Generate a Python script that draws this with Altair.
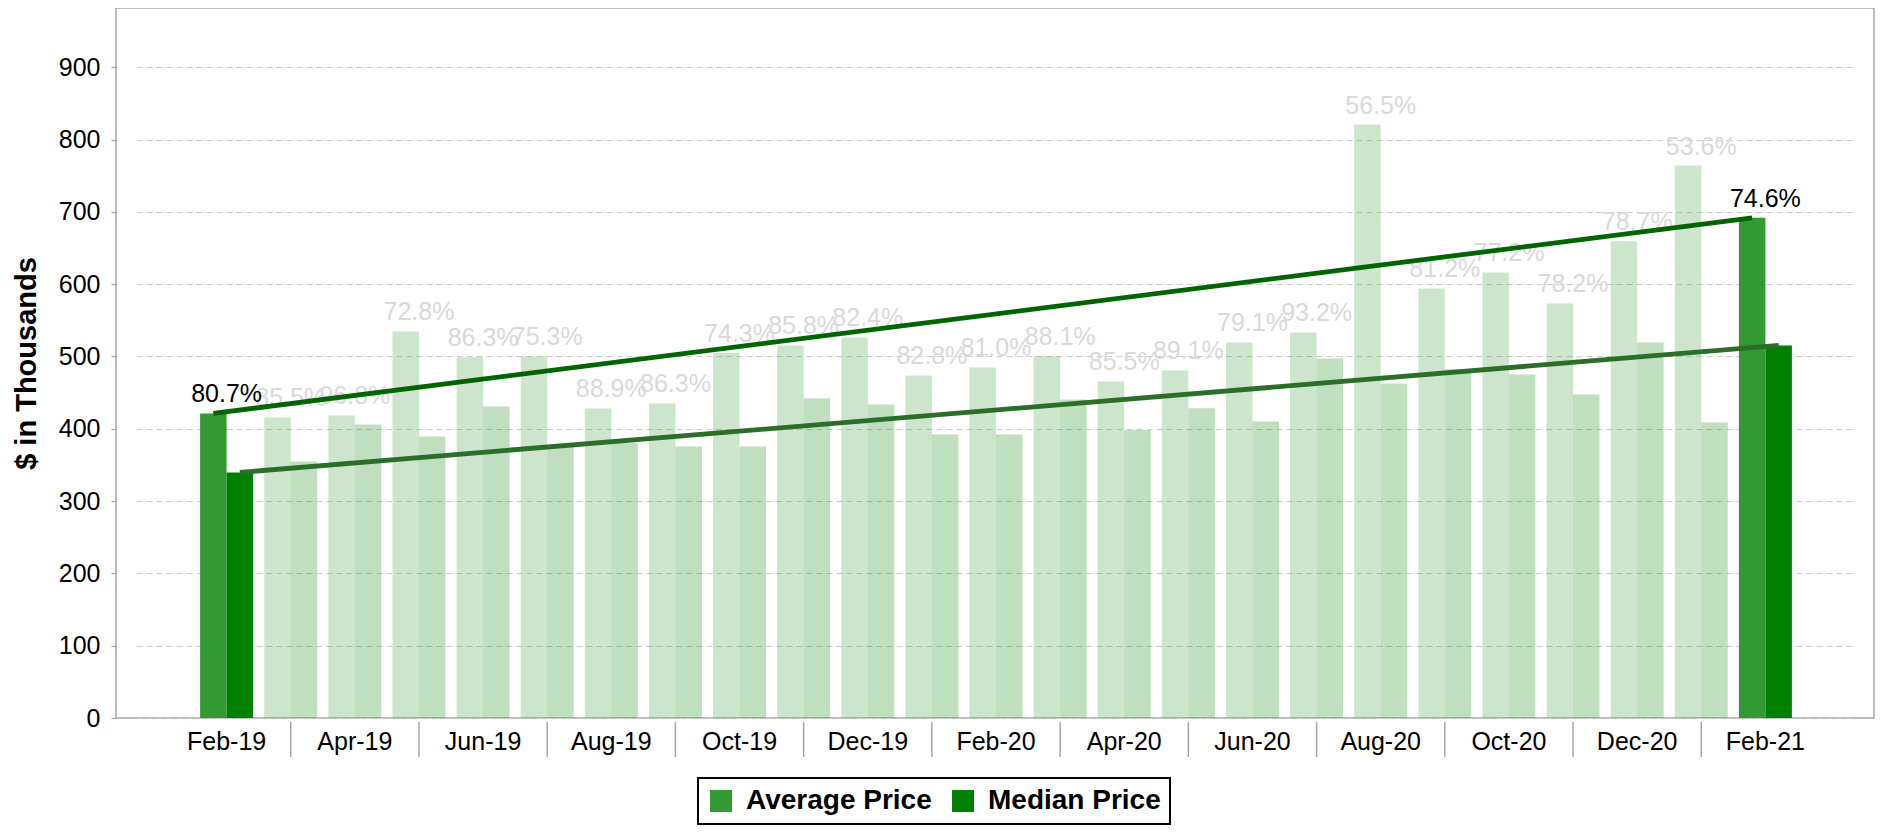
import altair as alt
import pandas as pd

months = ['Feb-19', 'Mar-19', 'Apr-19', 'May-19', 'Jun-19', 'Jul-19', 'Aug-19', 'Sep-19',
          'Oct-19', 'Nov-19', 'Dec-19', 'Jan-20', 'Feb-20', 'Mar-20', 'Apr-20', 'May-20',
          'Jun-20', 'Jul-20', 'Aug-20', 'Sep-20', 'Oct-20', 'Nov-20', 'Dec-20', 'Jan-21', 'Feb-21']
avg_price = [421.3, 415.7, 418.5, 534.6, 499.1, 500.0, 428.2, 435.0, 505.0, 515.3, 526.3, 473.8,
             484.9, 500.5, 465.5, 480.7, 519.4, 533.3, 820.7, 594.1, 616.2, 573.3, 659.4, 764.1, 691.8]
median_price = [339.7, 354.9, 406.0, 389.5, 431.0, 376.5, 380.2, 375.6, 375.6, 442.2, 433.7, 392.2,
                392.2, 440.6, 398.2, 428.3, 410.2, 497.3, 462.7, 482.4, 475.2, 447.5, 519.4, 408.8, 515.3]
ratio_labels = ['80.7%', '85.5%', '96.8%', '72.8%', '86.3%', '75.3%', '88.9%', '86.3%', '74.3%',
                '85.8%', '82.4%', '82.8%', '81.0%', '88.1%', '85.5%', '89.1%', '79.1%', '93.2%',
                '56.5%', '81.2%', '77.2%', '78.2%', '78.7%', '53.6%', '74.6%']
highlighted = ['Feb-19', 'Feb-21']
tick_labels = months[::2]
separators = months[1::2]
series_names = ['Average Price', 'Median Price']
series_colors = ['#339933', '#008000']
trend_colors = ['#006400', '#2a6e2a']

FONT = 'Liberation Sans'
W, H = 1758, 710

rows = []
for m, a, md in zip(months, avg_price, median_price):
    op = 1.0 if m in highlighted else 0.25
    rows.append({'month': m, 'series': series_names[0], 'value': a, 'op': op})
    rows.append({'month': m, 'series': series_names[1], 'value': md, 'op': op})
bars_df = pd.DataFrame(rows)

lab_df = pd.DataFrame({'month': months, 'value': avg_price, 'label': ratio_labels,
                       'hl': [m in highlighted for m in months]})

trend_rows = []
for s, vals, c in zip(series_names, [avg_price, median_price], trend_colors):
    trend_rows.append({'month': months[0], 'series': s, 'value': vals[0], 'c': c})
    trend_rows.append({'month': months[-1], 'series': s, 'value': vals[-1], 'c': c})
trend_df = pd.DataFrame(trend_rows)

sep_df = pd.DataFrame({'month': separators})

xscale = alt.Scale(domain=months, paddingInner=0.1736, paddingOuter=1, range=[20, W - 18])
xoff_scale = alt.Scale(domain=series_names, paddingInner=0, paddingOuter=0)
yscale = alt.Scale(domain=[0, 982], nice=False)

x_enc = alt.X('month:N', sort=months, scale=xscale,
              axis=alt.Axis(values=tick_labels, title=None, ticks=False, domain=False,
                            labelAngle=0, labelFontSize=25, labelFont=FONT, labelColor='black',
                            labelPadding=11, grid=False))
y_enc = alt.Y('value:Q', scale=yscale,
              axis=alt.Axis(values=list(range(0, 1000, 100)), grid=True, gridDash=[6, 4],
                            gridColor='#cccccc', gridWidth=1.2, domain=False, ticks=True,
                            tickSize=5, tickColor='#a6a6a6', tickWidth=1.2,
                            labelFontSize=25, labelFont=FONT, labelColor='black', labelPadding=11,
                            title='$ in Thousands', titleFontSize=29, titleFont=FONT,
                            titleFontWeight='bold', titleColor='black', titleX=-90, titleY=355,
                            titleAngle=-90, titleAlign='center', titleBaseline='middle'))

bars = alt.Chart(bars_df).mark_bar().encode(
    x=x_enc,
    xOffset=alt.XOffset('series:N', scale=xoff_scale, sort=series_names),
    y=y_enc,
    color=alt.Color('series:N', scale=alt.Scale(domain=series_names, range=series_colors),
                    legend=alt.Legend(title=None, orient='none', legendX=582, legendY=770,
                                      direction='horizontal', symbolType='square',
                                      symbolSize=484, symbolOpacity=1, symbolStrokeWidth=0,
                                      labelFontSize=28, labelFont=FONT, labelFontWeight='bold',
                                      labelColor='black', labelOffset=11, columnPadding=17,
                                      labelLimit=400, padding=9, strokeColor='black')),
    opacity=alt.Opacity('op:Q', scale=None),
)

pale_labels = alt.Chart(lab_df).transform_filter('!datum.hl').mark_text(
    dy=-11, baseline='alphabetic', align='center', fontSize=25, font=FONT, color='#d9d9d9'
).encode(x=alt.X('month:N', sort=months, scale=xscale), y=alt.Y('value:Q', scale=yscale),
         text='label:N')

hl_labels = alt.Chart(lab_df).transform_filter('datum.hl').mark_text(
    dy=-11, baseline='alphabetic', align='center', fontSize=25, font=FONT, color='black'
).encode(x=alt.X('month:N', sort=months, scale=xscale), y=alt.Y('value:Q', scale=yscale),
         text='label:N')

trend = alt.Chart(trend_df).mark_line(strokeWidth=4.8).encode(
    x=alt.X('month:N', sort=months, scale=xscale),
    xOffset=alt.XOffset('series:N', scale=xoff_scale, sort=series_names),
    y=alt.Y('value:Q', scale=yscale),
    detail='series:N',
    color=alt.Color('c:N', scale=None, legend=None),
)

seps = alt.Chart(sep_df).mark_rule(color='#a6a6a6', strokeWidth=1.5).encode(
    x=alt.X('month:N', sort=months, scale=xscale),
    y=alt.value(H + 4), y2=alt.value(H + 39),
)

chart = alt.layer(bars, pale_labels, trend, hl_labels, seps).properties(
    width=W, height=H,
    autosize=alt.AutoSizeParams(type='none'),
    padding={'left': 108, 'top': 0, 'right': 4, 'bottom': 109},
).configure_view(stroke='#a6a6a6', strokeWidth=1.5).configure_legend(strokeWidth=2)

chart.save('out.html', embed_options={'renderer': 'svg', 'actions': False})
